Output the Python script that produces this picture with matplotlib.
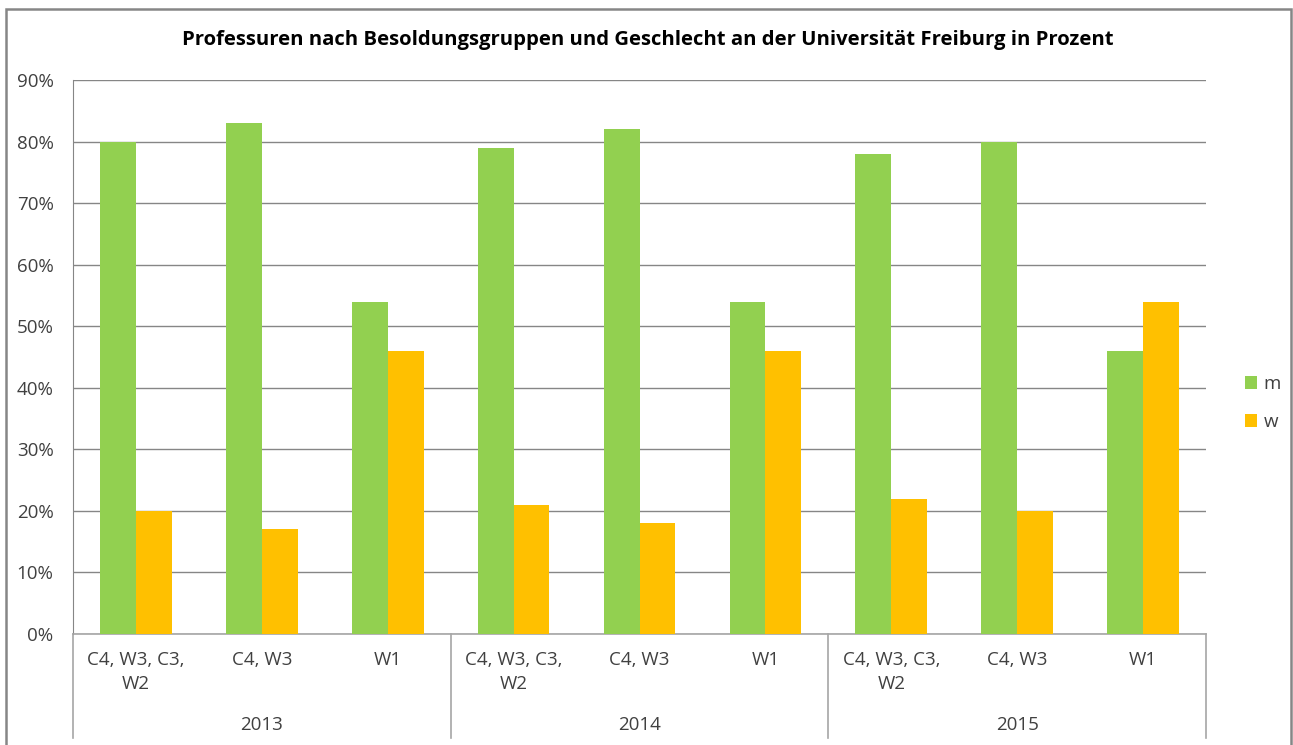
#!/usr/bin/env python3
"""Professuren nach Besoldungsgruppen und Geschlecht - grouped bar chart"""

import matplotlib
matplotlib.use('Agg')
import matplotlib.pyplot as plt
import numpy as np
from matplotlib.patches import Rectangle
from matplotlib.transforms import blended_transform_factory

plt.rcParams['font.family'] = ['Open Sans', 'DejaVu Sans']

years = ['2013', '2014', '2015']
groups = ['C4, W3, C3,\nW2', 'C4, W3', 'W1']
m_values = [80, 83, 54, 79, 82, 54, 78, 80, 46]
w_values = [20, 17, 46, 21, 18, 46, 22, 20, 54]
y_ticks = [0, 10, 20, 30, 40, 50, 60, 70, 80, 90]

GREEN = '#92D050'
ORANGE = '#FFC000'
GRID = '#868686'
TEXT = '#404040'
FS = 13.5

W, H = 1293, 745
fig = plt.figure(figsize=(W / 100, H / 100), dpi=100)

# chart border (Excel-like frame)
fig.patches.append(Rectangle((6 / W, -0.01), (1291 - 6) / W, (H - 9) / H + 0.01,
                             transform=fig.transFigure, fill=False,
                             edgecolor=GRID, linewidth=1.8))

ax = fig.add_axes([73 / W, (H - 634) / H, (1206 - 73) / W, (634 - 80) / H])

n = len(m_values)
x = np.arange(n)
bw = 0.285
ax.bar(x - bw / 2, m_values, width=bw, color=GREEN, label='m', zorder=3)
ax.bar(x + bw / 2, w_values, width=bw, color=ORANGE, label='w', zorder=3)

ax.set_xlim(-0.5, n - 0.5)
ax.set_ylim(0, 90)
ax.set_yticks(y_ticks)
ax.set_yticklabels([f'{t}%' for t in y_ticks], fontsize=FS, color=TEXT)
ax.tick_params(axis='y', length=0, pad=14)
ax.set_xticks([])
ax.grid(axis='y', color=GRID, linewidth=1.0, zorder=0)
for s in ['top', 'right']:
    ax.spines[s].set_visible(False)
ax.spines['left'].set_color(GRID)
ax.spines['bottom'].set_color('#A6A6A6')
ax.spines['bottom'].set_linewidth(1.2)

# multi-level category axis
trans = blended_transform_factory(ax.transData, fig.transFigure)
for i in range(n):
    ax.text(i, (H - 651) / H, groups[i % 3], transform=trans, ha='center', va='top',
            fontsize=FS, color=TEXT, linespacing=1.45)
for j, yr in enumerate(years):
    ax.text(3 * j + 1, (H - 725) / H, yr, transform=trans, ha='center', va='center',
            fontsize=FS, color=TEXT)
for k in range(4):
    ax.plot([3 * k - 0.5, 3 * k - 0.5], [(H - 634) / H, (H - 738) / H], transform=trans,
            color='#A6A6A6', linewidth=1.2, clip_on=False)

fig.text(648 / W, (H - 40) / H, 'Professuren nach Besoldungsgruppen und Geschlecht an der Universität Freiburg in Prozent',
         ha='center', va='center', fontsize=14.6, fontweight='bold', color='#000000')

leg = fig.legend(loc='center left', bbox_to_anchor=(1228 / W, (H - 403) / H), frameon=False,
                 fontsize=FS, handlelength=0.65, handleheight=0.65, handletextpad=0.35,
                 labelspacing=1.05, labelcolor=TEXT)

fig.savefig('out.png', dpi=100)
